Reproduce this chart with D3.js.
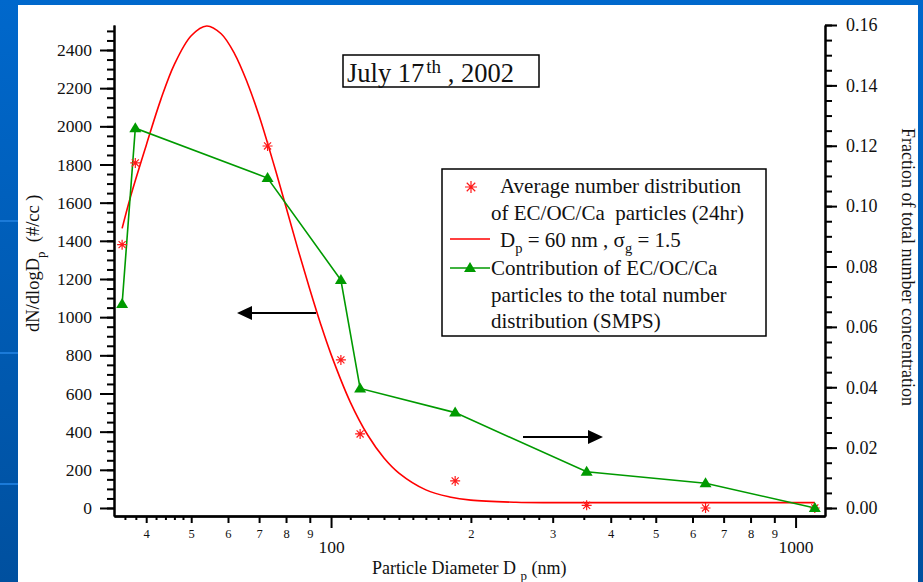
<!DOCTYPE html>
<html>
<head>
<meta charset="utf-8">
<script src="https://cdn.jsdelivr.net/npm/d3@7"></script>
<style>
  body { margin: 0; overflow: hidden; }
  text { font-family: "Liberation Serif", "Times New Roman", serif; fill: #111; white-space: pre; }
  .axis path, .axis line { stroke: #000; stroke-width: 2; }
  .axis text { font-family: "Liberation Serif", serif; fill: #111; }
</style>
</head>
<body>
<script>
// particle diameters (nm) of the measured points
const diameters = [35.5, 37.9, 73, 105, 115.5, 185, 355, 640, 1100]
// average number distribution of EC/OC/Ca particles, dN/dlogDp (#/cc)
const avgNumber = [1380, 1808, 1897, 776, 388, 142, 14, 0, 0]
// contribution of EC/OC/Ca particles to total number (fraction)
const fraction = [0.0676, 0.1258, 0.1093, 0.0755, 0.0396, 0.0316, 0.0120, 0.0082, 0.0]

// lognormal fit line (Dp = 60 nm, sigma_g = 1.5)
const fitDiameters = [35.5, 37, 40, 43, 46, 50, 54, 58, 62, 66, 70, 75, 80, 85, 90, 95, 100, 110, 120, 130, 140, 160, 180, 200, 250, 300, 500, 1100]
const fitValues = [1465, 1630, 1900, 2140, 2325, 2475, 2526, 2485, 2380, 2230, 2055, 1815, 1577, 1350, 1146, 963, 805, 555, 381, 262, 183, 95, 58, 41, 30, 28, 28, 28]

// ticks
const leftTicks = [0, 200, 400, 600, 800, 1000, 1200, 1400, 1600, 1800, 2000, 2200, 2400]
const leftMinorTicks = d3.range(0, 2501, 50)
const rightTicks = [0, 0.02, 0.04, 0.06, 0.08, 0.10, 0.12, 0.14, 0.16]
const rightMinorTicks = d3.range(0, 0.1601, 0.005)
const xMajorTicks = [100, 1000]
const xDigitTicks = [40, 50, 60, 70, 80, 90, 200, 300, 400, 500, 600, 700, 800, 900]
const xDigitLabels = ["4", "5", "6", "7", "8", "9", "2", "3", "4", "5", "6", "7", "8", "9"]
const xMinorTicks = [36, 38, 42, 44, 46, 48, 110, 120, 130, 140, 150, 160, 170, 180, 190, 220, 240, 260, 280, 350, 440, 470]

const W = 923, H = 582
const plot = { left: 114, right: 825, top: 25, bottom: 516 }

const svg = d3.select("body").append("svg")
    .attr("width", W)
    .attr("height", H)

// slide background
const grad = svg.append("defs").append("linearGradient")
    .attr("id", "bg").attr("x1", 0).attr("y1", 0).attr("x2", 0).attr("y2", 1)
grad.append("stop").attr("offset", "0%").attr("stop-color", "#0068cc")
grad.append("stop").attr("offset", "100%").attr("stop-color", "#00509f")
svg.append("rect").attr("width", W).attr("height", H).attr("fill", "url(#bg)")
;[220, 352, 483].forEach(function (y) {
    svg.append("rect").attr("x", 0).attr("y", y).attr("width", 18).attr("height", 2).attr("fill", "#1b7ad8")
})
svg.append("rect").attr("x", 18).attr("y", 5).attr("width", 900).attr("height", H - 5).attr("fill", "#fff")

// scales
const x = d3.scaleLog().domain([34.1, 1157]).range([plot.left, plot.right])
const yLeft = d3.scaleLinear().domain([-42, 2531]).range([plot.bottom, plot.top])
const yRight = d3.scaleLinear().domain([-0.00265, 0.16]).range([plot.bottom, plot.top])

// left axis
svg.append("g").attr("class", "axis")
    .attr("transform", `translate(${plot.left},0)`)
    .call(d3.axisLeft(yLeft).tickValues(leftMinorTicks).tickSize(7).tickSizeOuter(0).tickFormat(""))
svg.append("g").attr("class", "axis")
    .attr("transform", `translate(${plot.left},0)`)
    .call(d3.axisLeft(yLeft).tickValues(leftTicks).tickSize(14).tickPadding(8).tickSizeOuter(0).tickFormat(d3.format("d")))
    .call(g => g.selectAll("text").style("font-size", "17.5px"))

// right axis
svg.append("g").attr("class", "axis")
    .attr("transform", `translate(${plot.right},0)`)
    .call(d3.axisRight(yRight).tickValues(rightMinorTicks).tickSize(7).tickSizeOuter(0).tickFormat(""))
svg.append("g").attr("class", "axis")
    .attr("transform", `translate(${plot.right},0)`)
    .call(d3.axisRight(yRight).tickValues(rightTicks).tickSize(12).tickPadding(9).tickSizeOuter(0).tickFormat(d3.format(".2f")))
    .call(g => g.selectAll("text").style("font-size", "18px"))

// bottom axis
svg.append("g").attr("class", "axis")
    .attr("transform", `translate(0,${plot.bottom})`)
    .call(d3.axisBottom(x).tickValues(xMinorTicks).tickSize(4).tickSizeOuter(0).tickFormat(""))
svg.append("g").attr("class", "axis")
    .attr("transform", `translate(0,${plot.bottom})`)
    .call(d3.axisBottom(x).tickValues(xDigitTicks).tickSize(7).tickPadding(6).tickSizeOuter(0)
        .tickFormat((d, i) => xDigitLabels[i]))
    .call(g => g.selectAll("text").style("font-size", "12.5px"))
svg.append("g").attr("class", "axis")
    .attr("transform", `translate(0,${plot.bottom})`)
    .call(d3.axisBottom(x).tickValues(xMajorTicks).tickSize(12).tickPadding(13).tickSizeOuter(0).tickFormat(d3.format("d")))
    .call(g => g.selectAll("text").style("font-size", "17.5px"))

// axis titles
const leftTitle = svg.append("text")
    .attr("transform", "translate(39,332) rotate(-90)")
    .style("font-size", "18.5px")
leftTitle.append("tspan").text("dN/dlogD")
leftTitle.append("tspan").attr("dy", 6).style("font-size", "13px").text("p")
leftTitle.append("tspan").attr("dy", -6).text("  (#/cc )")

const rightTitle = svg.append("text")
    .attr("transform", "translate(902,128) rotate(90)")
    .style("font-size", "18px")
    .text("Fraction of total number concentration")

const bottomTitle = svg.append("text")
    .attr("x", 372).attr("y", 574)
    .style("font-size", "18px")
bottomTitle.append("tspan").text("Particle Diameter D ")
bottomTitle.append("tspan").attr("dy", 6).style("font-size", "13px").text("p")
bottomTitle.append("tspan").attr("dy", -6).text(" (nm)")

// fit line
svg.append("path")
    .datum(fitDiameters.map((d, i) => [d, fitValues[i]]))
    .attr("fill", "none")
    .attr("stroke", "#ff0000")
    .attr("stroke-width", 1.6)
    .attr("d", d3.line().x(d => x(d[0])).y(d => yLeft(d[1])).curve(d3.curveCatmullRom.alpha(0.5)))

// contribution line
svg.append("path")
    .datum(diameters.map((d, i) => [d, fraction[i]]))
    .attr("fill", "none")
    .attr("stroke", "#009a00")
    .attr("stroke-width", 1.6)
    .attr("d", d3.line().x(d => x(d[0])).y(d => yRight(d[1])))

function drawAsterisk(g, cx, cy, r) {
    const a = r * Math.SQRT1_2
    g.append("path")
        .attr("d", `M${cx - r},${cy}H${cx + r}M${cx},${cy - r}V${cy + r}` +
            `M${cx - a},${cy - a}L${cx + a},${cy + a}M${cx - a},${cy + a}L${cx + a},${cy - a}`)
        .attr("stroke", "#ff1a1a")
        .attr("stroke-width", 1.2)
        .attr("fill", "none")
}

function drawTriangle(g, cx, cy) {
    g.append("path")
        .attr("d", `M${cx},${cy - 6}L${cx + 6},${cy + 4}L${cx - 6},${cy + 4}Z`)
        .attr("fill", "#009a00")
}

const marks = svg.append("g")
diameters.forEach(function (d, i) {
    drawAsterisk(marks, x(d), yLeft(avgNumber[i]), 5)
})
diameters.forEach(function (d, i) {
    drawTriangle(marks, x(d), yRight(fraction[i]))
})

// arrows
function drawArrow(x1, x2, y) {
    const dir = x2 > x1 ? 1 : -1
    const headLen = 15
    svg.append("line")
        .attr("x1", x1).attr("x2", x2 - dir * headLen)
        .attr("y1", y).attr("y2", y)
        .attr("stroke", "#000").attr("stroke-width", 2)
    svg.append("path")
        .attr("d", `M${x2},${y}L${x2 - dir * headLen},${y - 7}L${x2 - dir * headLen},${y + 7}Z`)
        .attr("fill", "#000")
}
drawArrow(316, 237, 313)
drawArrow(523, 603, 437)

// date box
svg.append("rect")
    .attr("x", 343).attr("y", 55).attr("width", 196).attr("height", 32)
    .attr("fill", "#fff").attr("stroke", "#000").attr("stroke-width", 1.5)
const dateText = svg.append("text")
    .attr("x", 347).attr("y", 82)
    .style("font-size", "26.5px")
dateText.append("tspan").text("July 17")
dateText.append("tspan").attr("dx", 2).attr("dy", -9).style("font-size", "19px").text("th")
dateText.append("tspan").attr("dy", 9).text(" , 2002")

// legend
const legend = svg.append("g")
legend.append("rect")
    .attr("x", 442).attr("y", 169).attr("width", 324).attr("height", 167)
    .attr("fill", "#fff").attr("stroke", "#000").attr("stroke-width", 1.5)

const legendLines = [
    { y: 193, x: 500, text: "Average number distribution" },
    { y: 220, x: 491, text: "of EC/OC/Ca  particles (24hr)" },
    { y: 275, x: 491, text: "Contribution of EC/OC/Ca" },
    { y: 302, x: 491, text: "particles to the total number" },
    { y: 328, x: 491, text: "distribution (SMPS)" }
]
legendLines.forEach(function (l) {
    legend.append("text").attr("x", l.x).attr("y", l.y).style("font-size", "21px").text(l.text)
})
const fitLabel = legend.append("text").attr("x", 500).attr("y", 247).style("font-size", "21px")
fitLabel.append("tspan").text("D")
fitLabel.append("tspan").attr("dy", 6).style("font-size", "14.5px").text("p")
fitLabel.append("tspan").attr("dy", -6).text(" = 60 nm , σ")
fitLabel.append("tspan").attr("dy", 6).style("font-size", "14.5px").text("g")
fitLabel.append("tspan").attr("dy", -6).text(" = 1.5")

drawAsterisk(legend, 471, 187, 6)
legend.append("line").attr("x1", 450).attr("x2", 490).attr("y1", 239).attr("y2", 239)
    .attr("stroke", "#ff0000").attr("stroke-width", 1.6)
legend.append("line").attr("x1", 450).attr("x2", 490).attr("y1", 268).attr("y2", 268)
    .attr("stroke", "#009a00").attr("stroke-width", 1.6)
drawTriangle(legend, 470, 268)
</script>
</body>
</html>
